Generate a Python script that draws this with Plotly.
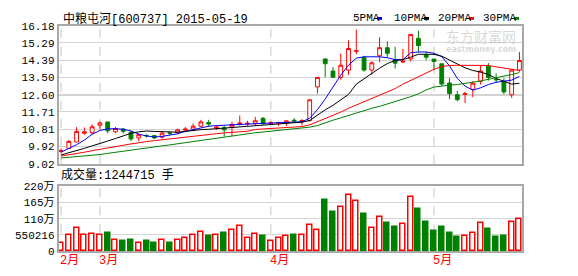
import plotly.graph_objects as go

# ---------------- data ----------------
title_text = "中粮屯河[600737] 2015-05-19"
volume_title = "成交量:1244715 手"

opens = [9.66, 9.82, 10.15, 10.60, 10.63, 11.02, 11.19, 10.68, 10.82, 10.65,
         10.36, 10.49, 10.48, 10.40, 10.62, 10.63, 10.76, 10.81, 10.97, 11.16,
         10.87, 10.89, 10.93, 11.06, 11.08, 11.10, 11.38, 11.12, 11.12, 11.12,
         11.28, 11.20, 11.26, 13.01, 14.46, 13.83, 13.50, 13.88, 14.85, 14.54,
         13.88, 14.62, 15.04, 14.42, 14.30, 14.46, 15.53, 14.67, 14.45, 14.21,
         13.21, 12.60, 12.62, 12.88, 13.30, 14.08, 13.40, 13.30, 12.60, 13.88]
highs = [9.82, 10.26, 10.92, 10.90, 11.06, 11.22, 11.19, 10.93, 10.88, 10.73,
         10.60, 10.55, 10.52, 10.70, 10.70, 10.85, 10.93, 11.10, 11.30, 11.30,
         11.01, 11.01, 11.20, 11.52, 11.25, 11.45, 11.45, 11.22, 11.20, 11.25,
         11.38, 11.34, 12.34, 13.50, 14.46, 14.04, 14.74, 15.42, 15.98, 14.62,
         14.33, 15.58, 15.37, 15.09, 14.99, 15.73, 15.92, 14.84, 14.45, 14.21,
         13.46, 12.80, 12.76, 13.30, 14.13, 14.25, 13.71, 13.46, 13.88, 14.82]
lows = [9.55, 9.80, 10.15, 10.53, 10.56, 10.81, 10.60, 10.60, 10.60, 10.20,
        10.18, 10.38, 10.30, 10.32, 10.50, 10.55, 10.65, 10.73, 10.93, 10.93,
        10.78, 10.43, 10.45, 11.00, 10.99, 10.99, 11.05, 11.05, 10.98, 10.98,
        11.14, 11.01, 11.22, 12.66, 13.51, 13.46, 13.38, 13.63, 14.70, 13.80,
        13.63, 14.29, 14.54, 13.96, 14.24, 14.33, 14.79, 14.38, 13.88, 13.05,
        12.37, 12.25, 12.17, 12.47, 13.13, 13.33, 13.21, 12.63, 12.44, 13.79]
closes = [9.70, 10.18, 10.70, 10.68, 10.94, 11.14, 10.73, 10.85, 10.70, 10.31,
          10.53, 10.47, 10.36, 10.61, 10.60, 10.78, 10.82, 10.97, 11.19, 11.08,
          10.92, 10.78, 11.06, 11.14, 11.12, 11.25, 11.10, 11.15, 11.16, 11.25,
          11.24, 11.26, 12.34, 13.50, 14.21, 13.51, 14.13, 15.00, 14.88, 13.88,
          14.26, 15.04, 14.75, 14.24, 14.34, 15.73, 15.15, 14.55, 14.33, 13.16,
          12.66, 12.35, 12.66, 13.20, 13.83, 13.50, 13.38, 12.75, 13.88, 14.38]
# volume in 万手
volumes_wan = [29.1, 55.0, 77.6, 55.0, 58.2, 55.0, 62.5, 38.8, 33.4, 38.8,
               29.1, 33.4, 27.0, 38.8, 27.0, 38.8, 45.3, 55.0, 64.7, 52.8,
               55.0, 62.5, 71.2, 84.1, 43.1, 58.2, 52.8, 35.6, 43.1, 52.8,
               56.0, 55.0, 87.3, 71.2, 172.5, 133.7, 148.8, 190.9, 168.2, 124.0,
               77.6, 116.5, 94.9, 81.9, 90.6, 184.4, 143.4, 98.1, 69.0, 81.9,
               62.5, 49.6, 51.8, 61.5, 93.8, 75.5, 49.6, 52.8, 97.0, 107.8]
ma5 = [9.62, 9.80, 10.01, 10.25, 10.55, 10.75, 10.83, 10.84, 10.81, 10.72,
       10.56, 10.46, 10.41, 10.44, 10.50, 10.58, 10.70, 10.80, 10.90, 10.97,
       11.00, 11.01, 11.03, 11.05, 11.08, 11.10, 11.12, 11.14, 11.16, 11.18,
       11.19, 11.20, 11.38, 11.83, 12.38, 13.00, 13.62, 14.13, 14.50, 14.57,
       14.57, 14.57, 14.52, 14.42, 14.42, 14.78, 14.82, 14.82, 14.75, 14.58,
       14.10, 13.45, 13.05, 12.84, 12.96, 13.13, 13.25, 13.31, 13.36, 13.55]
ma10 = [9.48, 9.58, 9.70, 9.82, 9.95, 10.06, 10.20, 10.33, 10.46, 10.60,
        10.68, 10.72, 10.70, 10.68, 10.67, 10.66, 10.70, 10.75, 10.79, 10.81,
        10.84, 10.86, 10.89, 10.93, 10.96, 10.99, 11.02, 11.05, 11.08, 11.10,
        11.12, 11.18, 11.26, 11.55, 11.82, 12.05, 12.35, 12.62, 13.15, 13.45,
        13.71, 13.98, 14.22, 14.38, 14.42, 14.55, 14.70, 14.70, 14.70, 14.60,
        14.42, 14.20, 14.00, 13.86, 13.78, 13.65, 13.45, 13.30, 13.15, 13.20]
ma20 = [9.42, 9.48, 9.55, 9.62, 9.70, 9.78, 9.85, 9.92, 9.98, 10.05,
        10.12, 10.17, 10.22, 10.27, 10.32, 10.36, 10.40, 10.45, 10.50, 10.55,
        10.58, 10.62, 10.65, 10.68, 10.71, 10.80, 10.82, 10.84, 10.86, 10.88,
        10.90, 10.95, 11.04, 11.20, 11.38, 11.52, 11.70, 11.90, 12.08, 12.25,
        12.42, 12.58, 12.75, 12.92, 13.15, 13.35, 13.55, 13.72, 13.92, 14.06,
        14.12, 14.13, 14.13, 14.13, 14.13, 14.12, 14.05, 13.99, 13.92, 13.86]
ma30 = [9.32, 9.35, 9.38, 9.42, 9.46, 9.50, 9.56, 9.62, 9.67, 9.73,
        9.78, 9.84, 9.89, 9.95, 10.00, 10.06, 10.11, 10.16, 10.22, 10.29,
        10.36, 10.41, 10.47, 10.52, 10.57, 10.63, 10.67, 10.71, 10.74, 10.78,
        10.81, 10.86, 10.92, 11.00, 11.15, 11.28, 11.40, 11.53, 11.66, 11.80,
        11.90, 12.00, 12.12, 12.24, 12.35, 12.50, 12.65, 12.85, 13.00, 13.06,
        13.10, 13.13, 13.18, 13.25, 13.32, 13.40, 13.47, 13.55, 13.65, 13.75]

price_ticks = [9.02, 9.92, 10.81, 11.71, 12.60, 13.50, 14.39, 15.29, 16.18]
vol_tickvals = [0, 550216, 1100000, 1650000, 2200000]
vol_ticktext = ["0", "550216", "110万", "165万", "220万"]
month_labels = ["2月", "3月", "4月", "5月"]
month_start_idx = [0, 5, 27, 48]
ma_names = ["5PMA", "10PMA", "20PMA", "30PMA"]
ma_colors = ["#0000ff", "#000000", "#ff0000", "#008000"]

# ---------------- figure ----------------
W, H = 578, 276
RED, GREEN = "#ff0000", "#008000"
n = len(closes)
xs = list(range(n))
volumes = [v * 10000 for v in volumes_wan]
is_up = [c >= o for o, c in zip(opens, closes)]

def px_x(p):
    return p / W

def px_y(p):
    return 1 - p / H

FONT = "Liberation Mono, Noto Sans CJK SC, monospace"
XRANGE = [-0.33, 59.33]
XDOM = [px_x(58.5), px_x(522)]

fig = go.Figure()

fig.add_trace(go.Candlestick(
    x=xs, open=opens, high=highs, low=lows, close=closes,
    increasing=dict(line=dict(color=RED, width=1), fillcolor="white"),
    decreasing=dict(line=dict(color=GREEN, width=1), fillcolor=GREEN),
    whiskerwidth=0, showlegend=False, xaxis="x", yaxis="y", hoverinfo="skip"))

for name, col, vals in zip(ma_names, ma_colors, [ma5, ma10, ma20, ma30]):
    fig.add_trace(go.Scatter(x=xs, y=vals, mode="lines", name=name,
                             line=dict(color=col, width=1), showlegend=False,
                             xaxis="x", yaxis="y", hoverinfo="skip"))

fig.add_trace(go.Bar(
    x=xs, y=volumes, width=0.64,
    marker=dict(color=["white" if u else GREEN for u in is_up],
                line=dict(color=[RED if u else GREEN for u in is_up], width=1.5)),
    showlegend=False, xaxis="x2", yaxis="y2", hoverinfo="skip"))

axis_common = dict(showline=True, mirror=True, linecolor="#a8a8a8", linewidth=1.5,
                   zeroline=False, fixedrange=True)

fig.update_layout(
    width=W, height=H, margin=dict(l=0, r=0, t=0, b=0),
    paper_bgcolor="white", plot_bgcolor="white",
    showlegend=False, bargap=0,
    font=dict(family=FONT, size=11, color="#000000"),
    xaxis=dict(domain=XDOM, range=XRANGE, showgrid=False, showticklabels=False,
               ticks="", anchor="y", rangeslider=dict(visible=False), **axis_common),
    yaxis=dict(domain=[px_y(166), px_y(21.7)], range=[price_ticks[0], price_ticks[-1]],
               tickvals=price_ticks, ticktext=[f"{t:.2f}" for t in price_ticks],
               showgrid=True, gridcolor="#d4d4d4", gridwidth=1, ticks="",
               anchor="x", **axis_common),
    xaxis2=dict(domain=XDOM, range=XRANGE, showgrid=False, showticklabels=False,
                ticks="", anchor="y2", **axis_common),
    yaxis2=dict(domain=[px_y(257.5), px_y(189.3)], range=[0, vol_tickvals[-1]],
                tickvals=vol_tickvals, ticktext=vol_ticktext,
                showgrid=True, gridcolor="#d4d4d4", gridwidth=1, ticks="",
                anchor="x2", **axis_common),
)

shapes = []
# dashed month separators
for idx in month_start_idx:
    for xr, yr in (("x", "y domain"), ("x2", "y2 domain")):
        shapes.append(dict(type="line", xref=xr, yref=yr, x0=idx, x1=idx, y0=0, y1=1,
                           line=dict(color="#c4c4c4", width=1, dash="dash"), layer="below"))
# darker middle grid line
shapes.append(dict(type="line", xref="x domain", yref="y", x0=0, x1=1,
                   y0=price_ticks[4], y1=price_ticks[4],
                   line=dict(color="#a8a8a8", width=1.5), layer="below"))

annotations = []
annotations.append(dict(text=title_text, x=px_x(61), y=px_y(14.5), xref="paper", yref="paper",
                        xanchor="left", yanchor="middle", showarrow=False,
                        font=dict(size=12, family=FONT, color="#000000")))
annotations.append(dict(text=volume_title, x=px_x(59), y=px_y(178), xref="paper", yref="paper",
                        xanchor="left", yanchor="middle", showarrow=False,
                        font=dict(size=12, family=FONT, color="#000000")))

legend_text_left = [351, 392, 436, 481]
legend_mark_left = [377, 424, 469, 514]
for name, col, tx, mx in zip(ma_names, ma_colors, legend_text_left, legend_mark_left):
    annotations.append(dict(text=name, x=px_x(tx), y=px_y(14), xref="paper", yref="paper",
                            xanchor="left", yanchor="middle", showarrow=False,
                            font=dict(size=11, family=FONT, color="#000000")))
    shapes.append(dict(type="rect", xref="paper", yref="paper",
                       x0=px_x(mx), x1=px_x(mx + 5), y0=px_y(15.5), y1=px_y(12.5),
                       line=dict(width=0), fillcolor=col))

for lbl, idx in zip(month_labels, month_start_idx):
    annotations.append(dict(text=lbl, x=idx, xshift=-3, y=px_y(267.5), xref="x2", yref="paper",
                            xanchor="left", yanchor="middle", showarrow=False,
                            font=dict(size=12, family=FONT, color=RED)))

# watermark
annotations.append(dict(text="东方财富网", x=px_x(481), y=px_y(32), xref="paper", yref="paper",
                        xanchor="center", yanchor="middle", showarrow=False,
                        font=dict(size=14, family="Noto Sans CJK SC", color="rgba(170,170,170,0.45)")))
annotations.append(dict(text="<b>eastmoney.com</b>", x=px_x(481), y=px_y(47), xref="paper", yref="paper",
                        xanchor="center", yanchor="middle", showarrow=False,
                        font=dict(size=8, family="DejaVu Sans", color="rgba(170,170,170,0.45)")))

fig.update_layout(shapes=shapes, annotations=annotations)

fig.write_html("out.html")
